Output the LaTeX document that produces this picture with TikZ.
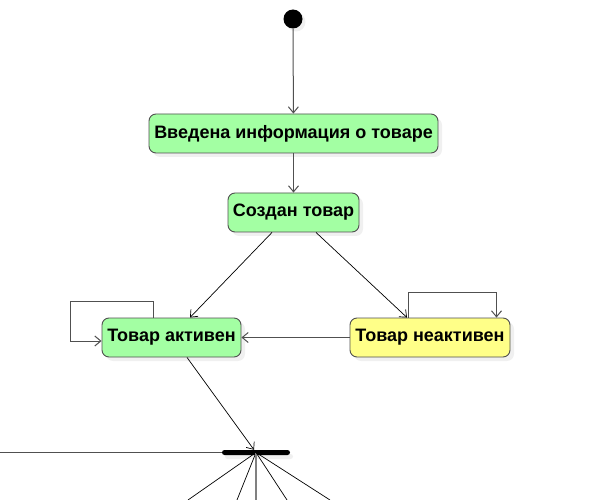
\documentclass[tikz,border=0pt]{standalone}
\usepackage{fontspec}
\setmainfont{Liberation Sans}
\usetikzlibrary{arrows,arrows.meta,shadows}

\definecolor{stategreen}{RGB}{163,255,163}
\definecolor{stateyellow}{RGB}{255,255,136}
\definecolor{edgegray}{RGB}{80,80,80}

\begin{document}
\begin{tikzpicture}[
						x=1pt, y=-1pt,
						state/.style={
							rectangle, rounded corners=7pt, draw=edgegray, line width=0.9pt,
							inner sep=0pt, minimum height=39pt,
							font=\fontsize{18}{21}\selectfont\bfseries,
							drop shadow={shadow xshift=4pt, shadow yshift=-4pt, fill=black!6, opacity=1}
						},
						trans/.style={-{Straight Barb[length=6pt, width=10pt]}, draw=edgegray, line width=1pt},
						thin/.style={-{Straight Barb[length=6pt, width=10pt]}, draw=black, line width=0.7pt}
					]
					\useasboundingbox (0,0) rectangle (614,500);
					\node[circle, fill=black, minimum size=19pt, inner sep=0pt,
						drop shadow={shadow xshift=3pt, shadow yshift=-3pt, fill=black!6, opacity=1}] (start) at (293,19) {};
					\node[state, fill=stategreen, minimum width=289pt] (info) at (293.5,133.5) {Введена информация о товаре};
					\node[state, fill=stategreen, minimum width=131pt] (created) at (293.5,212.5) {Создан товар};
					\node[state, fill=stategreen, minimum width=139pt] (active) at (171.5,337.5) {Товар активен};
					\node[state, fill=stateyellow, minimum width=160pt] (inactive) at (430,337.5) {Товар неактивен};
					\node[rectangle, fill=black, rounded corners=2.5pt, minimum width=68pt, minimum height=5pt, inner sep=0pt,
						drop shadow={shadow xshift=3pt, shadow yshift=-4pt, fill=black!6, opacity=1}] (bar) at (256,452.5) {};
					\coordinate (left) at (0,452.5);
					\coordinate (out1) at (188,500);
					\coordinate (out2) at (237,500);
					\coordinate (out3) at (256,500);
					\coordinate (out4) at (287,500);
					\coordinate (out5) at (330,500);
					\draw[trans] (start) -- (info);
					\draw[trans] (info) -- (created);
					\draw[thin] ([xshift=-21.5pt]created.south) -- ([xshift=18.5pt]active.north);
					\draw[thin] ([xshift=22.5pt]created.south) -- ([xshift=-23pt]inactive.north);
					\draw[trans] (inactive.west) -- (active.east);
					\draw[trans] ([xshift=-18.5pt]active.north) -- ++(0,-16) -- ++(-83,0) |- ([yshift=-3.5pt]active.west);
					\draw[trans] ([xshift=-22pt]inactive.north) -- ++(0,-25) -| ([xshift=66.5pt]inactive.north);
					\draw[thin] ([xshift=15.5pt]active.south) -- ([xshift=-2pt]bar.north);
					\draw[edgegray, line width=1pt] (left) -- (bar.west);
					\draw[black, line width=0.7pt] (bar.center) -- (out1);
					\draw[black, line width=0.7pt] (bar.center) -- (out2);
					\draw[gray, line width=1.3pt] (bar.center) -- (out3);
					\draw[black, line width=0.7pt] (bar.center) -- (out4);
					\draw[black, line width=0.7pt] (bar.center) -- (out5);
				\end{tikzpicture}
\end{document}
